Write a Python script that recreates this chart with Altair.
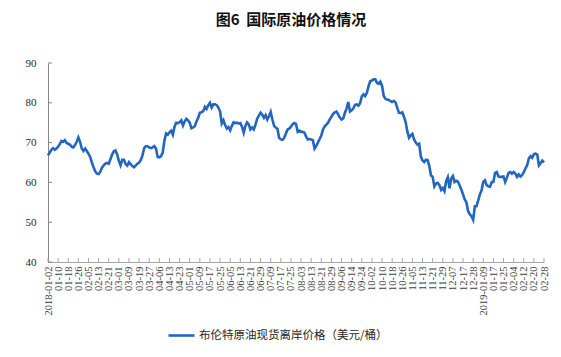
import altair as alt
import pandas as pd

title_text = "图6\u00a0\u00a0国际原油价格情况"
series_name = "布伦特原油现货离岸价格（美元/桶）"

tick_labels = ["2018-01-02", "01-10", "01-18", "01-26", "02-05", "02-13", "02-21",
               "03-01", "03-09", "03-19", "03-27", "04-06", "04-13", "04-23",
               "05-01", "05-09", "05-17", "05-25", "06-05", "06-13", "06-21",
               "06-29", "07-09", "07-17", "07-25", "08-03", "08-13", "08-21",
               "08-29", "09-06", "09-14", "09-24", "10-02", "10-10", "10-18",
               "10-26", "11-05", "11-13", "11-21", "11-29", "12-07", "12-17",
               "12-28", "2019-01-09", "01-17", "01-25", "02-04", "02-12",
               "02-20", "02-28"]
label_step = 6  # trading days between labels

y_ticks = [40, 50, 60, 70, 80, 90]

# one value per trading day
prices = [
    66.8, 67.5, 68.2, 68.6, 68.2, 68.5, 69.0, 69.6, 70.4, 70.2,
    70.6, 69.9, 69.7, 69.5, 69.0, 68.8, 69.4, 70.2, 71.3, 70.2,
    68.5, 67.9, 68.5, 67.9, 67.2, 66.4, 65.0, 63.8, 62.8, 62.2,
    62.1, 62.7, 63.7, 64.3, 64.7, 64.9, 64.7, 65.8, 67.0, 67.8,
    68.0, 67.0, 65.4, 64.3, 65.7, 65.7, 64.6, 64.2, 65.1, 64.6,
    64.1, 63.8, 64.3, 64.7, 65.0, 65.6, 66.8, 68.6, 69.1, 69.1,
    68.8, 68.6, 68.8, 69.1, 68.5, 66.4, 66.3, 66.6, 67.5, 70.5,
    72.3, 72.0, 72.6, 73.0, 72.0, 74.0, 75.0, 74.9, 75.1, 75.6,
    74.3, 75.3, 76.0, 75.6, 75.0, 73.6, 73.8, 74.1, 75.3, 76.2,
    77.5, 77.6, 77.9, 79.0, 78.5, 79.4, 80.0, 78.8, 79.6, 79.6,
    79.4, 78.8, 77.8, 74.8, 75.6, 74.4, 73.5, 73.9, 73.1, 74.2,
    75.1, 74.9, 75.0, 74.8, 74.9, 74.0, 72.5, 74.2, 75.1, 74.6,
    73.3, 73.8, 73.3, 74.5, 76.0, 76.8, 77.5, 77.0, 76.2, 76.9,
    75.8, 76.6, 77.7, 75.8, 74.2, 73.8, 73.5, 71.2, 70.8, 70.7,
    71.2, 72.3, 73.3, 73.5, 74.0, 74.6, 74.9, 74.7, 72.7, 73.0,
    72.7, 72.7, 72.5, 71.5, 70.8, 70.9, 70.8, 70.6, 68.5, 69.2,
    70.0, 70.9, 71.8, 73.3, 74.1, 74.5, 75.0, 75.8, 76.5, 77.2,
    77.6, 77.8, 77.1, 76.3, 75.8, 76.1, 77.5, 78.6, 80.2, 77.8,
    78.1, 78.6, 79.5, 79.6, 79.3, 79.9, 81.6, 82.1, 81.7, 82.5,
    84.2, 85.4, 85.6, 85.9, 85.9, 85.0, 84.8, 85.3, 84.3, 81.7,
    81.0, 80.8, 80.7, 80.4, 80.2, 80.5, 80.1, 78.8, 77.5, 77.4,
    77.6, 76.5, 75.1, 72.8, 71.2, 71.8, 72.2, 70.8, 70.0, 69.5,
    69.7, 66.5, 65.5, 65.1, 65.7, 65.6, 64.1, 61.8, 61.4, 59.0,
    59.7, 59.9, 59.3, 58.1, 58.6, 57.8, 60.3, 61.3, 58.5, 61.0,
    61.6, 60.1, 60.4, 60.2, 59.2, 58.2, 57.0, 55.7, 55.0, 52.8,
    52.0, 51.5, 50.6, 54.0, 54.0, 55.5, 57.0, 58.0, 60.1, 60.5,
    59.3, 59.0, 58.9, 60.1, 60.1, 62.4, 62.6, 61.5, 61.4, 61.4,
    61.5, 60.1, 61.2, 62.4, 62.6, 62.2, 62.6, 62.2, 61.4, 62.0,
    61.5, 61.8, 62.6, 63.5, 64.3, 66.0, 66.6, 66.2, 67.1, 67.2,
    67.0, 64.3, 64.9, 65.5, 65.0,
]

W, H = 496, 199
LINE_COLOR = "#2366C2"
LAST = (len(tick_labels) - 1) * label_step

df = pd.DataFrame({"idx": list(range(len(prices))), "price": prices, "series": series_name})
xt = pd.DataFrame({"idx": [k * label_step for k in range(len(tick_labels))]})
yt = pd.DataFrame({"price": y_ticks})

label_expr = "[" + ",".join("'" + s + "'" for s in tick_labels) + "][round(datum.value / %d)]" % label_step

x_scale = alt.Scale(domain=[0, LAST], nice=False, zero=False)
y_scale = alt.Scale(domain=[40, 90], nice=False, zero=False)

x_axis = alt.Axis(
    values=xt["idx"].tolist(), labelExpr=label_expr, labelAngle=270,
    labelFont="Liberation Serif", labelFontSize=10.5, labelColor="#404040",
    ticks=False, tickSize=0, labelPadding=4, domainColor="#A6A6A6",
    grid=False, title=None, labelOverlap=False, labelFlush=False, labelBound=False)
y_axis = alt.Axis(
    values=y_ticks, labelFont="Liberation Serif", labelFontSize=11,
    labelColor="#262626", ticks=False, tickSize=0, labelPadding=12,
    domainColor="#868686", grid=False, title=None)

line = alt.Chart(df).mark_line(strokeWidth=2.6).encode(
    x=alt.X("idx:Q", scale=x_scale, axis=x_axis),
    y=alt.Y("price:Q", scale=y_scale, axis=y_axis),
    color=alt.Color("series:N", scale=alt.Scale(range=[LINE_COLOR]), legend=alt.Legend(
        title=None, orient="none", legendX=119, legendY=258, padding=0,
        symbolType="stroke", symbolSize=676, symbolStrokeWidth=2.6,
        labelFont="Noto Sans CJK SC", labelFontSize=11.5, labelColor="#262626",
        labelOffset=3, labelLimit=400)),
)

xticks = alt.Chart(xt).mark_rule(color="#A6A6A6", strokeWidth=1).encode(
    x=alt.X("idx:Q", scale=x_scale, axis=x_axis),
    y=alt.value(H), y2=alt.value(H - 4),
)
yticks = alt.Chart(yt).mark_rule(color="#868686", strokeWidth=1).encode(
    y=alt.Y("price:Q", scale=y_scale, axis=y_axis),
    x=alt.value(0), x2=alt.value(4),
)

chart = alt.layer(line, xticks, yticks).properties(
    width=W, height=H,
    title=alt.TitleParams(text=title_text, font="Noto Sans CJK SC", fontSize=15,
                          fontWeight="bold", color="#111111", anchor="middle",
                          frame="group", baseline="bottom", offset=14, dx=-5),
    autosize=alt.AutoSizeParams(type="none"),
    padding={"left": 40, "top": 55, "right": 9, "bottom": 87},
    background="white",
).configure_view(stroke=None)

chart.save("out.html", embed_options={"renderer": "svg", "actions": False})
